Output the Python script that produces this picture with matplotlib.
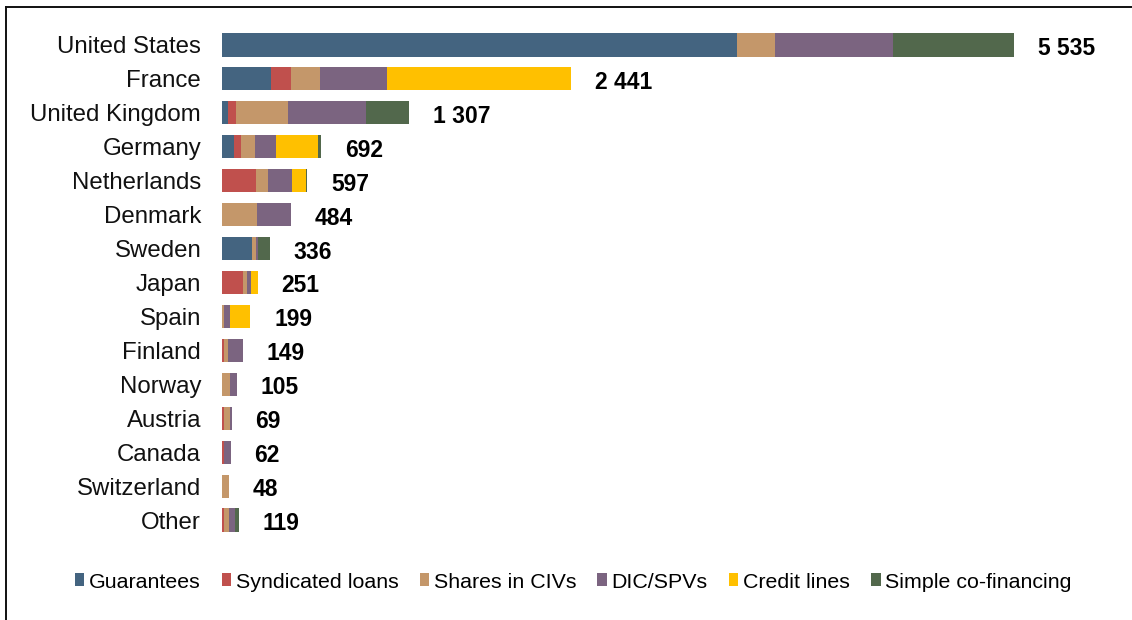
import matplotlib
matplotlib.use("Agg")
import matplotlib.pyplot as plt
from matplotlib.lines import Line2D
import numpy as np

plt.rcParams['font.family'] = ['Liberation Sans', 'DejaVu Sans']

countries = ["United States", "France", "United Kingdom", "Germany", "Netherlands",
             "Denmark", "Sweden", "Japan", "Spain", "Finland", "Norway", "Austria",
             "Canada", "Switzerland", "Other"]

instruments = ["Guarantees", "Syndicated loans", "Shares in CIVs", "DIC/SPVs",
               "Credit lines", "Simple co-financing"]

guarantees    = [3600, 340, 40, 86, 0, 0, 212, 0, 0, 0, 0, 0, 0, 0, 0]
syndicated    = [0, 144, 56, 47, 237, 0, 0, 145, 0, 12, 0, 12, 12, 0, 16]
shares_civs   = [268, 202, 363, 100, 81, 244, 28, 30, 12, 30, 55, 45, 0, 48, 30]
dic_spvs      = [824, 465, 547, 144, 170, 240, 14, 30, 47, 107, 50, 12, 50, 0, 44]
credit_lines  = [0, 1290, 0, 294, 98, 0, 0, 46, 140, 0, 0, 0, 0, 0, 0]
cofinancing   = [843, 0, 301, 21, 11, 0, 82, 0, 0, 0, 0, 0, 0, 0, 29]

totals = [5535, 2441, 1307, 692, 597, 484, 336, 251, 199, 149, 105, 69, 62, 48, 119]
total_labels = ["5 535", "2 441", "1 307", "692", "597", "484", "336", "251",
                "199", "149", "105", "69", "62", "48", "119"]

colors = ["#446480", "#C0504D", "#C4976A", "#7B6480", "#FFC000", "#52684C"]

series = [guarantees, syndicated, shares_civs, dic_spvs, credit_lines, cofinancing]

W, H = 1132, 620
fig = plt.figure(figsize=(W / 100, H / 100), dpi=100)
ax = fig.add_axes([222 / W, 1 - 537 / H, (1014 - 222) / W, (537 - 28) / H])

y = np.arange(len(countries))
left = np.zeros(len(countries))
for name, vals, col in zip(instruments, series, colors):
    vals = np.array(vals, dtype=float)
    ax.barh(y, vals, left=left, height=0.68, color=col, label=name, linewidth=0)
    left += vals

for yi, tot, lab in zip(y, totals, total_labels):
    ax.annotate(lab, xy=(tot, yi), xytext=(17, -2.5), textcoords="offset points",
                ha="left", va="center", fontsize=16.5, fontweight="bold",
                annotation_clip=False)

ax.set_xlim(0, 5535)
ax.set_ylim(len(countries) - 0.5, -0.5)
ax.set_yticks(y)
ax.set_yticklabels(countries, fontsize=17.3, color="#111111")
ax.tick_params(axis="y", length=0, pad=15)
ax.set_xticks([])
for s in ax.spines.values():
    s.set_visible(False)

leg = fig.legend(loc="center", bbox_to_anchor=(573 / W, 1 - 582 / H), ncol=6,
                 frameon=False, fontsize=15.4, handlelength=0.45, handleheight=0.55,
                 handletextpad=0.2, columnspacing=1.0, borderaxespad=0)

# frame lines along the left and top edges of the figure
fig.add_artist(Line2D([6 / W, 6 / W], [0, 1 - 7 / H], transform=fig.transFigure,
                      color="#111111", linewidth=1.4))
fig.add_artist(Line2D([6 / W, 1], [1 - 7 / H, 1 - 7 / H], transform=fig.transFigure,
                      color="#111111", linewidth=1.4))

fig.savefig("out.png", dpi=100)
